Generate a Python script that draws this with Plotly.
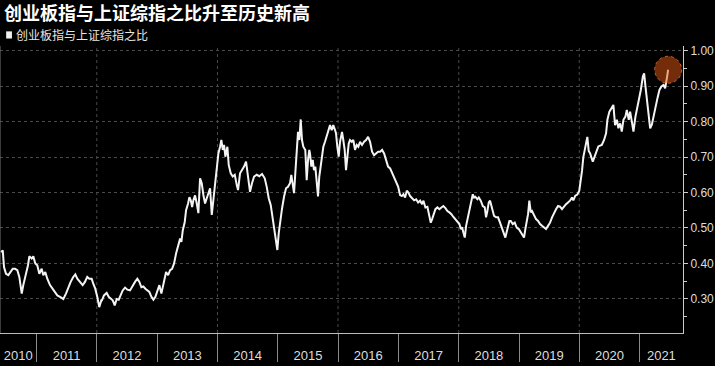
import plotly.graph_objects as go
import pandas as pd

# ---- data (decimal years, ratio ChiNext / SSE Composite) ----
years = [
    2010.412, 2010.440, 2010.461, 2010.494, 2010.533, 2010.572, 2010.606, 2010.644, 2010.682, 2010.715,
    2010.755, 2010.781, 2010.826, 2010.859, 2010.881, 2010.921, 2010.947, 2010.980, 2011.013, 2011.047,
    2011.086, 2011.113, 2011.146, 2011.179, 2011.224, 2011.269, 2011.307, 2011.345, 2011.390, 2011.445,
    2011.489, 2011.527, 2011.567, 2011.610, 2011.644, 2011.677, 2011.721, 2011.766, 2011.804, 2011.842,
    2011.876, 2011.915, 2011.942, 2011.975, 2012.008, 2012.041, 2012.075, 2012.086, 2012.119, 2012.164,
    2012.197, 2012.230, 2012.264, 2012.297, 2012.330, 2012.363, 2012.396, 2012.429, 2012.468, 2012.506,
    2012.550, 2012.595, 2012.633, 2012.672, 2012.705, 2012.738, 2012.771, 2012.804, 2012.837, 2012.870,
    2012.904, 2012.937, 2012.970, 2013.003, 2013.036, 2013.069, 2013.093, 2013.114, 2013.147, 2013.181,
    2013.214, 2013.247, 2013.280, 2013.313, 2013.346, 2013.380, 2013.401, 2013.424, 2013.457, 2013.479,
    2013.512, 2013.534, 2013.557, 2013.579, 2013.600, 2013.628, 2013.656, 2013.683, 2013.711, 2013.739,
    2013.766, 2013.794, 2013.822, 2013.849, 2013.877, 2013.905, 2013.932, 2013.960, 2013.988, 2014.015,
    2014.043, 2014.064, 2014.088, 2014.109, 2014.131, 2014.164, 2014.187, 2014.220, 2014.253, 2014.287,
    2014.320, 2014.341, 2014.374, 2014.408, 2014.441, 2014.474, 2014.507, 2014.540, 2014.573, 2014.607,
    2014.651, 2014.694, 2014.739, 2014.784, 2014.817, 2014.850, 2014.883, 2014.917, 2014.950, 2014.971,
    2014.993, 2015.016, 2015.038, 2015.071, 2015.104, 2015.137, 2015.170, 2015.203, 2015.225, 2015.248,
    2015.270, 2015.291, 2015.315, 2015.336, 2015.358, 2015.381, 2015.402, 2015.424, 2015.457, 2015.480,
    2015.502, 2015.523, 2015.535, 2015.557, 2015.580, 2015.601, 2015.623, 2015.646, 2015.668, 2015.689,
    2015.713, 2015.734, 2015.756, 2015.784, 2015.812, 2015.839, 2015.867, 2015.895, 2015.921, 2015.950,
    2015.966, 2015.988, 2016.011, 2016.033, 2016.066, 2016.087, 2016.110, 2016.132, 2016.154, 2016.177,
    2016.198, 2016.227, 2016.253, 2016.281, 2016.309, 2016.336, 2016.364, 2016.397, 2016.431, 2016.464,
    2016.497, 2016.530, 2016.563, 2016.596, 2016.629, 2016.663, 2016.696, 2016.729, 2016.762, 2016.795,
    2016.828, 2016.862, 2016.895, 2016.928, 2016.961, 2016.994, 2017.027, 2017.056, 2017.082, 2017.110,
    2017.138, 2017.165, 2017.193, 2017.226, 2017.260, 2017.293, 2017.326, 2017.359, 2017.392, 2017.414,
    2017.447, 2017.480, 2017.513, 2017.536, 2017.558, 2017.580, 2017.613, 2017.646, 2017.679, 2017.712,
    2017.745, 2017.779, 2017.812, 2017.845, 2017.878, 2017.911, 2017.944, 2017.977, 2018.011, 2018.034,
    2018.055, 2018.077, 2018.100, 2018.122, 2018.143, 2018.167, 2018.188, 2018.210, 2018.233, 2018.254,
    2018.276, 2018.309, 2018.332, 2018.365, 2018.399, 2018.432, 2018.453, 2018.475, 2018.498, 2018.520,
    2018.553, 2018.586, 2018.619, 2018.652, 2018.685, 2018.719, 2018.752, 2018.773, 2018.807, 2018.840,
    2018.863, 2018.896, 2018.929, 2018.962, 2018.996, 2019.029, 2019.062, 2019.083, 2019.105, 2019.128,
    2019.150, 2019.171, 2019.195, 2019.216, 2019.249, 2019.282, 2019.316, 2019.349, 2019.382, 2019.415,
    2019.448, 2019.481, 2019.515, 2019.548, 2019.581, 2019.614, 2019.647, 2019.680, 2019.713, 2019.747,
    2019.780, 2019.813, 2019.846, 2019.879, 2019.901, 2019.934, 2019.967, 2020.000, 2020.024, 2020.045,
    2020.067, 2020.090, 2020.111, 2020.133, 2020.156, 2020.178, 2020.223, 2020.261, 2020.315, 2020.372,
    2020.410, 2020.443, 2020.465, 2020.498, 2020.538, 2020.564, 2020.592, 2020.621, 2020.647, 2020.675,
    2020.703, 2020.730, 2020.763, 2020.786, 2020.819, 2020.841, 2020.874, 2020.896, 2020.929, 2020.962,
    2020.995, 2021.018, 2021.052, 2021.073, 2021.095, 2021.118, 2021.144, 2021.173, 2021.201, 2021.227,
    2021.261, 2021.294, 2021.327, 2021.360, 2021.393, 2021.421, 2021.450, 2021.471,
]
ratio = [
    .432, .437, .390, .371, .367, .376, .385, .385, .381, .362,
    .315, .339, .367, .395, .420, .414, .420, .400, .395, .371,
    .385, .367, .376, .357, .339, .329, .320, .310, .306, .300,
    .315, .333, .348, .362, .369, .357, .348, .339, .348, .362,
    .357, .357, .343, .329, .306, .277, .296, .296, .310, .317,
    .306, .300, .296, .282, .300, .298, .310, .324, .332, .326,
    .324, .339, .348, .357, .348, .333, .335, .329, .324, .320,
    .306, .298, .306, .324, .339, .315, .333, .357, .376, .367,
    .381, .385, .400, .428, .451, .470, .461, .493, .517, .550,
    .569, .587, .578, .559, .578, .592, .569, .542, .640, .626,
    .593, .569, .584, .598, .612, .537, .579, .621, .682, .710,
    .729, .748, .720, .734, .701, .729, .677, .654, .645, .650,
    .621, .607, .654, .663, .673, .687, .645, .602, .626, .645,
    .650, .646, .652, .640, .616, .584, .565, .523, .476, .457,
    .438, .485, .518, .555, .588, .612, .616, .626, .650, .616,
    .598, .654, .729, .771, .748, .806, .748, .729, .720, .635,
    .692, .720, .710, .673, .692, .663, .673, .617, .589, .645,
    .673, .710, .729, .743, .757, .771, .790, .776, .790, .776,
    .767, .729, .701, .743, .771, .748, .720, .663, .710, .738,
    .748, .743, .748, .720, .734, .729, .743, .734, .743, .748,
    .757, .743, .715, .705, .710, .715, .715, .720, .710, .692,
    .673, .668, .654, .640, .631, .617, .593, .590, .595, .586,
    .605, .600, .590, .584, .578, .581, .572, .577, .567, .577,
    .558, .560, .534, .515, .525, .539, .553, .558, .553, .558,
    .562, .556, .548, .544, .539, .531, .525, .520, .511, .497,
    .502, .487, .473, .506, .525, .544, .558, .577, .595, .586,
    .588, .581, .586, .577, .562, .558, .530, .548, .572, .577,
    .553, .534, .530, .530, .515, .497, .483, .473, .497, .520,
    .520, .511, .515, .501, .497, .487, .478, .473, .497, .520,
    .539, .577, .544, .548, .534, .525, .520, .511, .506, .501,
    .497, .506, .515, .530, .544, .553, .562, .560, .553, .562,
    .567, .572, .577, .586, .578, .591, .594, .605, .633, .661,
    .700, .717, .736, .757, .717, .711, .687, .706, .730, .734,
    .748, .767, .805, .828, .842, .847, .790, .805, .781, .795,
    .772, .805, .814, .833, .805, .828, .795, .772, .814, .842,
    .866, .889, .927, .936, .899, .861, .814, .781, .791, .814,
    .842, .866, .889, .899, .903, .894, .922, .946,
]
year_labels = [str(y) for y in range(2010, 2022)]
grid_years = [2012, 2014, 2016, 2018, 2020]
y_ticks = [0.30, 0.40, 0.50, 0.60, 0.70, 0.80, 0.90, 1.00]

title_text = "创业板指与上证综指之比升至历史新高"
series_name = "创业板指与上证综指之比"


def to_date(y):
    yr = int(y)
    start = pd.Timestamp(yr, 1, 1)
    end = pd.Timestamp(yr + 1, 1, 1)
    return start + (y - yr) * (end - start)


dates = [to_date(y) for y in years]

x_range = [pd.Timestamp("2010-05-25"), pd.Timestamp("2021-09-20")]
y_range = [0.204, 1.013]

# label centres: middle of the visible part of each year
label_pos = []
for lab in year_labels:
    s = max(pd.Timestamp(int(lab), 1, 1), x_range[0])
    e = min(pd.Timestamp(int(lab) + 1, 1, 1), x_range[1])
    label_pos.append(s + (e - s) / 2)

fig = go.Figure()
fig.add_trace(go.Scatter(
    x=dates, y=ratio, mode="lines", name=series_name,
    line=dict(color="#f4f4f4", width=2), showlegend=False,
))

grid_style = dict(color="#4a4a4a", width=1, dash="dot")
shapes = []
for gy in grid_years:
    shapes.append(dict(type="line", xref="x", yref="paper",
                       x0=pd.Timestamp(gy, 1, 1), x1=pd.Timestamp(gy, 1, 1),
                       y0=0, y1=1, line=grid_style, layer="below"))
# left border line
shapes.append(dict(type="line", xref="paper", yref="paper", x0=0, x1=0, y0=0, y1=1,
                   line=dict(color="#777", width=1)))
# highlight circle on latest value
shapes.append(dict(type="circle", xref="x", yref="y",
                   xsizemode="pixel", ysizemode="pixel",
                   xanchor=dates[-1], yanchor=ratio[-1],
                   x0=-13.5, x1=13.5, y0=-13.5, y1=13.5,
                   fillcolor="rgba(230,90,20,0.5)",
                   line=dict(color="rgba(235,110,40,0.8)", width=1, dash="dot"),
                   layer="above"))
# legend square
shapes.append(dict(type="rect", xref="paper", yref="paper",
                   x0=0.009, x1=0.0175, y0=1.026, y1=1.051,
                   fillcolor="#f0f0f0", line=dict(width=0)))

fig.update_layout(
    width=715, height=366,
    margin=dict(l=0, r=32, t=46, b=33),
    paper_bgcolor="black", plot_bgcolor="black",
    font=dict(family="Liberation Sans, Arial, sans-serif", color="#dddddd"),
    shapes=shapes,
    annotations=[
        dict(text="<b>" + title_text + "</b>", xref="paper", yref="paper",
             x=0.003, y=1.118, xanchor="left", yanchor="middle", showarrow=False,
             font=dict(family="Noto Sans CJK SC", size=18, color="#ffffff")),
        dict(text=series_name, xref="paper", yref="paper",
             x=0.021, y=1.039, xanchor="left", yanchor="middle", showarrow=False,
             font=dict(family="Noto Sans CJK SC", size=12, color="#e6e6e6")),
    ],
    xaxis=dict(
        type="date", range=x_range,
        tickmode="array", tickvals=label_pos, ticktext=year_labels,
        ticks="", showgrid=False, zeroline=False,
        showline=True, linecolor="#bbbbbb", linewidth=1,
        tickfont=dict(size=13, color="#dddddd"),
        ticklabelstandoff=10,
        minor=dict(tickmode="linear", tick0="2011-01-01", dtick="M12",
                   ticks="outside", ticklen=28, tickcolor="#8a8a8a", tickwidth=1,
                   showgrid=False),
        automargin=False,
    ),
    yaxis=dict(
        side="right", range=y_range,
        tickmode="array", tickvals=y_ticks, tickformat=".2f",
        ticks="outside", ticklen=4, tickcolor="#cccccc", tickwidth=1,
        showline=True, linecolor="#cccccc", linewidth=1,
        showgrid=True, gridcolor="#4a4a4a", griddash="dot", gridwidth=1,
        zeroline=False,
        tickfont=dict(size=12, color="#dddddd"),
        ticklabelstandoff=0,
        minor=dict(tickmode="linear", tick0=0, dtick=0.05, ticks="outside",
                   ticklen=3, tickcolor="#cccccc", showgrid=False),
        automargin=False,
    ),
)

fig.write_html("out.html")
